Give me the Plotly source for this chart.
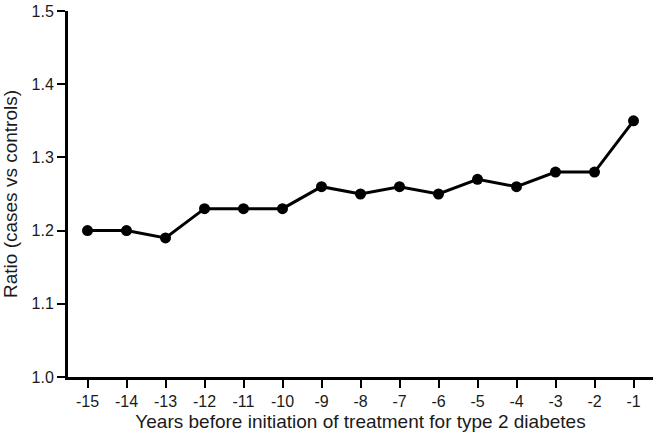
import plotly.graph_objects as go

years = [-15, -14, -13, -12, -11, -10, -9, -8, -7, -6, -5, -4, -3, -2, -1]
ratio = [1.20, 1.20, 1.19, 1.23, 1.23, 1.23, 1.26, 1.25, 1.26, 1.25, 1.27, 1.26, 1.28, 1.28, 1.35]

y_ticks = [1.0, 1.1, 1.2, 1.3, 1.4, 1.5]

fig = go.Figure()
fig.add_trace(
    go.Scatter(
        x=years,
        y=ratio,
        mode="lines+markers",
        line=dict(color="black", width=3),
        marker=dict(color="black", size=11),
        cliponaxis=False,
        showlegend=False,
    )
)

tick_font = dict(family="Liberation Sans, Arial", size=16, color="#1a1a1a")
title_font = dict(family="Liberation Sans, Arial", size=19, color="#1a1a1a")

fig.update_layout(
    width=656,
    height=436,
    plot_bgcolor="white",
    paper_bgcolor="white",
    margin=dict(l=68, r=3, t=7, b=59),
    xaxis=dict(
        range=[-15.5, -0.5],
        tickvals=years,
        ticktext=[str(y) for y in years],
        ticks="outside",
        ticklen=8,
        tickwidth=2,
        tickcolor="black",
        showline=True,
        linecolor="black",
        linewidth=3,
        showgrid=False,
        zeroline=False,
        tickfont=tick_font,
        ticklabeloverflow="allow",
        title=dict(text="Years before initiation of treatment for type 2 diabetes", font=title_font, standoff=6),
    ),
    yaxis=dict(
        range=[1.0, 1.5],
        tickvals=y_ticks,
        tickformat=".1f",
        ticks="outside",
        ticklen=8,
        tickwidth=2,
        tickcolor="black",
        showline=True,
        linecolor="black",
        linewidth=3,
        showgrid=False,
        zeroline=False,
        tickfont=tick_font,
        ticklabeloverflow="allow",
        title=dict(text="Ratio (cases vs controls)", font=title_font, standoff=14),
    ),
)

# drop the default body margin so the figure sits at the page origin
fig.write_html(
    "out.html",
    config={"displayModeBar": False},
    post_script="document.body.style.margin='0';",
)
